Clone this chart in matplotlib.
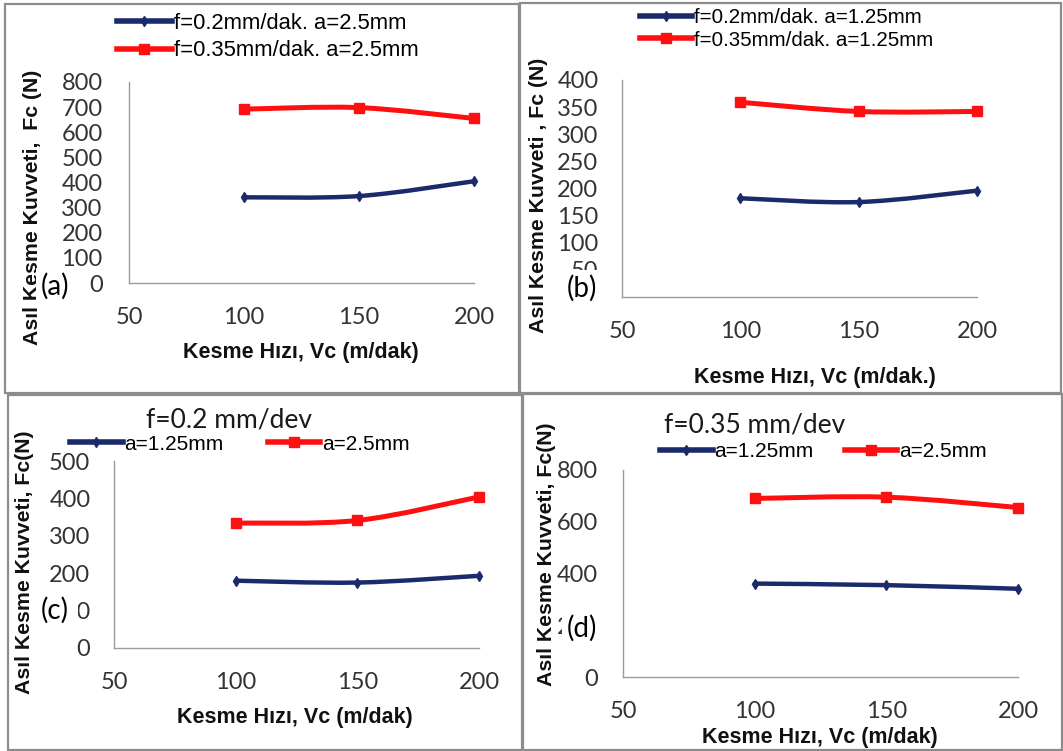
import matplotlib
matplotlib.use("Agg")
import matplotlib.pyplot as plt
from matplotlib.lines import Line2D
from matplotlib.patches import Rectangle, PathPatch
from matplotlib.path import Path
import numpy as np

# ─── Data ────────────────────────────────────────────────────────────────────
vc = [100, 150, 200]

# (a) a=2.5mm
a_f02 = [341, 346, 405]
a_f035 = [692, 698, 655]
# (b) a=1.25mm
b_f02 = [182, 175, 196]
b_f035 = [359, 342, 342]
# (c) f=0.2 mm/dev
c_a125 = [180, 175, 193]
c_a25 = [334, 341, 404]
# (d) f=0.35 mm/dev
d_a125 = [361, 355, 341]
d_a25 = [690, 695, 655]

x_ticks = [50, 100, 150, 200]

# ─── Style ───────────────────────────────────────────────────────────────────
W, H = 1063, 751
BLUE = "#1b2a6b"
RED = "#ff1010"
GREY_TXT = "#333333"
TICK_FONT = "Lato"
LABEL_FONT = "Liberation Sans"

fig = plt.figure(figsize=(W / 100, H / 100), dpi=100)


def px_rect(l, t, r, b):
    return [l / W, 1 - b / H, (r - l) / W, (b - t) / H]


def fx(x):
    return x / W


def fy(y):
    return 1 - y / H


def smooth_path(x, y):
    # Excel-like smoothed line: Catmull-Rom converted to cubic bezier
    p = np.column_stack([x, y]).astype(float)
    pts = np.vstack([p[0], p, p[-1]])
    verts = [p[0]]
    codes = [Path.MOVETO]
    for i in range(1, len(pts) - 2):
        c1 = pts[i] + (pts[i + 1] - pts[i - 1]) / 6.0
        c2 = pts[i + 1] - (pts[i + 2] - pts[i]) / 6.0
        verts += [c1, c2, pts[i + 1]]
        codes += [Path.CURVE4] * 3
    return Path(verts, codes)


def draw_series(ax, x, y, color, marker, ms, lw):
    patch = PathPatch(smooth_path(x, y), facecolor="none", edgecolor=color,
                      lw=lw, capstyle="round", joinstyle="round", zorder=3)
    ax.add_patch(patch)
    ax.plot(x, y, linestyle="none", marker=marker, ms=ms, color=color,
            mec=color, zorder=4, clip_on=False)


def setup_axes(rect, ymax, ystep, xlabel, ylabel, xlab_pos, ylab_pos, ypad):
    ax = fig.add_axes(rect)
    ax.set_xlim(50, 200)
    ax.set_ylim(0, ymax)
    ax.set_xticks(x_ticks)
    ax.set_yticks(np.arange(0, ymax + 1, ystep))
    for s in ["top", "right"]:
        ax.spines[s].set_visible(False)
    for s in ["left", "bottom"]:
        ax.spines[s].set_color("#9a9a9a")
        ax.spines[s].set_linewidth(1.0)
    ax.tick_params(length=0, labelsize=17, colors=GREY_TXT)
    ax.tick_params(axis="y", pad=ypad)
    ax.tick_params(axis="x", pad=17.5)
    for lab in ax.get_xticklabels() + ax.get_yticklabels():
        lab.set_fontfamily(TICK_FONT)
    ax.set_xlabel(xlabel, fontsize=15.5, fontweight="bold", family=LABEL_FONT,
                  color="#111111", va="center")
    ax.set_ylabel(ylabel, fontsize=15.3, fontweight="bold", family=LABEL_FONT,
                  color="#111111", va="center")
    ax.xaxis.set_label_coords(fx(xlab_pos[0]), fy(xlab_pos[1]),
                              transform=fig.transFigure)
    ax.yaxis.set_label_coords(fx(ylab_pos[0]), fy(ylab_pos[1]),
                              transform=fig.transFigure)
    return ax


def handles(labels):
    return [
        Line2D([], [], color=BLUE, lw=4, marker="d", ms=5, label=labels[0]),
        Line2D([], [], color=RED, lw=4, marker="s", ms=7, label=labels[1]),
    ]


def add_legend(ax, labels, x, y, ncol, size, colsp=1.0, rowsp=0.2):
    ax.legend(handles=handles(labels), loc="center left",
              bbox_to_anchor=(fx(x), fy(y)), bbox_transform=fig.transFigure,
              ncol=ncol, frameon=False, handlelength=2.5, handletextpad=0.1,
              columnspacing=colsp, labelspacing=rowsp, borderpad=0,
              prop={"family": LABEL_FONT, "size": size})


def panel_label(text, x, y, pad=3.5):
    fig.text(fx(x), fy(y), text, fontsize=20, family=TICK_FONT, ha="left",
             va="center", color="black",
             bbox=dict(facecolor="white", edgecolor="none", pad=pad))


# ─── Panel borders ───────────────────────────────────────────────────────────
for (l, t, r, b) in [(5, 4, 519, 393), (520, 3, 1061, 393),
                     (8, 395, 522, 750), (523, 394, 1062, 750)]:
    fig.patches.append(Rectangle((fx(l), fy(b)), fx(r - l), (b - t) / H,
                                 transform=fig.transFigure, fill=False,
                                 edgecolor="#8c8c8c", lw=1.6, zorder=0))

# ─── (a) ─────────────────────────────────────────────────────────────────────
ax_a = setup_axes(px_rect(129, 82, 474, 283), 800, 100,
                  "Kesme Hızı, Vc (m/dak)", "Asıl Kesme Kuvveti,  Fc (N)",
                  (301, 353), (33, 207), 19)
draw_series(ax_a, vc, a_f02, BLUE, "d", 5, 3.2)
draw_series(ax_a, vc, a_f035, RED, "s", 7, 3.6)
add_legend(ax_a, ["f=0.2mm/dak. a=2.5mm", "f=0.35mm/dak. a=2.5mm"],
           106, 37, 1, 15.8, rowsp=0.3)
panel_label("(a)", 41, 286)

# ─── (b) ─────────────────────────────────────────────────────────────────────
ax_b = setup_axes(px_rect(622, 80, 977, 297), 400, 50,
                  "Kesme Hızı, Vc (m/dak.)", "Asıl Kesme Kuvveti , Fc (N)",
                  (815, 377), (538, 195), 17)
draw_series(ax_b, vc, b_f02, BLUE, "d", 5, 3.2)
draw_series(ax_b, vc, b_f035, RED, "s", 7, 3.6)
add_legend(ax_b, ["f=0.2mm/dak. a=1.25mm", "f=0.35mm/dak. a=1.25mm"],
           630, 29, 1, 14.8, rowsp=0.15)
panel_label("(b)", 567, 288)

# ─── (c) ─────────────────────────────────────────────────────────────────────
ax_c = setup_axes(px_rect(114, 461, 479, 648), 500, 100,
                  "Kesme Hızı, Vc (m/dak)", "Asıl Kesme Kuvveti, Fc(N)",
                  (295, 718), (25, 562), 17)
draw_series(ax_c, vc, c_a125, BLUE, "d", 5, 3.2)
draw_series(ax_c, vc, c_a25, RED, "s", 7, 3.6)
add_legend(ax_c, ["a=1.25mm", "a=2.5mm"], 60, 444, 2, 15.0, colsp=2.1)
fig.text(fx(229), fy(420), "f=0.2 mm/dev", fontsize=19, family=TICK_FONT,
         ha="center", va="center", color="#1a1a1a")
panel_label("(c)", 41, 610, pad=6.5)

# ─── (d) ─────────────────────────────────────────────────────────────────────
ax_d = setup_axes(px_rect(623, 470, 1018, 677), 800, 200,
                  "Kesme Hızı, Vc (m/dak)", "Asıl Kesme Kuvveti, Fc(N)",
                  (820, 737), (547, 554), 18)
draw_series(ax_d, vc, d_a125, BLUE, "d", 5, 3.2)
draw_series(ax_d, vc, d_a25, RED, "s", 7, 3.6)
add_legend(ax_d, ["a=1.25mm", "a=2.5mm"], 650, 452, 2, 15.0, colsp=1.5)
fig.text(fx(755), fy(425), "f=0.35 mm/dev", fontsize=19, family=TICK_FONT,
         ha="center", va="center", color="#1a1a1a")
panel_label("(d)", 567, 628)

fig.savefig("out.png", dpi=100)
